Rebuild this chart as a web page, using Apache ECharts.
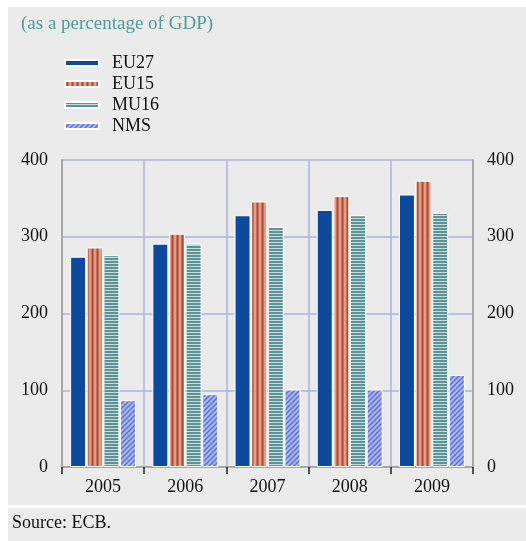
<!DOCTYPE html>
<html>
<head>
<meta charset="utf-8">
<script src="https://cdn.jsdelivr.net/npm/echarts@6/dist/echarts.min.js"></script>
<style>
html,body{margin:0;padding:0;background:#fff;}
#chart{width:526px;height:541px;}
</style>
</head>
<body>
<div id="chart"></div>
<script>
const categories = ['2005', '2006', '2007', '2008', '2009'];
const seriesNames = ['EU27', 'EU15', 'MU16', 'NMS'];
const eu27 = [274, 291, 328, 335, 355];
const eu15 = [286, 304, 346, 353, 373];
const mu16 = [276, 291, 313, 328, 331];
const nms = [87, 95, 101, 101, 120];
const yTicks = [0, 100, 200, 300, 400];

function makePattern(w, h, draw) {
  const c = document.createElement('canvas');
  c.width = w; c.height = h;
  const ctx = c.getContext('2d');
  draw(ctx, w, h);
  return { image: c, repeat: 'repeat' };
}
const solidBlue = '#0d4a9e';
const redPattern = makePattern(5, 4, (ctx, w, h) => {
  ctx.fillStyle = '#dea08a'; ctx.fillRect(0, 0, w, h);
  ctx.fillStyle = '#b24632'; ctx.fillRect(2, 0, 1, h);
  ctx.fillStyle = '#c96f58'; ctx.fillRect(1, 0, 1, h); ctx.fillRect(3, 0, 1, h);
});
const tealPattern = makePattern(4, 3, (ctx, w, h) => {
  ctx.fillStyle = '#5b9398'; ctx.fillRect(0, 0, w, h);
  ctx.fillStyle = '#c9dcdc'; ctx.fillRect(0, 2, w, 1);
});
const hatchPattern = makePattern(5, 5, (ctx, w, h) => {
  ctx.fillStyle = '#aab6ec'; ctx.fillRect(0, 0, w, h);
  ctx.strokeStyle = '#5870d2'; ctx.lineWidth = 1.4;
  ctx.beginPath();
  ctx.moveTo(-1, h + 1); ctx.lineTo(w + 1, -1);
  ctx.moveTo(-1, 1); ctx.lineTo(1, -1);
  ctx.moveTo(w - 1, h + 1); ctx.lineTo(w + 1, h - 1);
  ctx.stroke();
});
const fills = [solidBlue, redPattern, tealPattern, hatchPattern];
const values = [eu27, eu15, mu16, nms];

const chart = echarts.init(document.getElementById('chart'), null, { renderer: 'canvas' });
const font = 'Liberation Serif';
const gridColor = '#a9b3e2';
const axisGray = '#a6a6a6';

const series = seriesNames.map((name, i) => ({
  name: name,
  type: 'bar',
  data: values[i],
  barWidth: 16,
  barGap: '4%',
  itemStyle: { color: fills[i], borderColor: '#ffffff', borderWidth: 1 },
  emphasis: { disabled: true }
}));

chart.setOption({
  animation: false,
  backgroundColor: '#ffffff',
  graphic: [
    { type: 'rect', z: -10, shape: { x: 8, y: 7, width: 518, height: 534 }, style: { fill: '#ebebeb' } },
    { type: 'rect', z: -9, shape: { x: 8, y: 505, width: 518, height: 3 }, style: { fill: '#ffffff' } },
    { type: 'text', left: 21, top: 15, style: { text: '(as a percentage of GDP)', fontFamily: font, fontSize: 19, fill: '#4f9d9d' } },
    { type: 'text', left: 12, top: 514, style: { text: 'Source: ECB.', fontFamily: font, fontSize: 18, fill: '#111' } }
  ],
  legend: {
    orient: 'vertical',
    left: 59,
    top: 49,
    itemWidth: 34,
    itemHeight: 6,
    itemGap: 3,
    icon: 'rect',
    selectedMode: false,
    textStyle: { fontFamily: font, fontSize: 18, lineHeight: 18, color: '#111', padding: [0, 0, 0, 8] },
    data: seriesNames
  },
  grid: { left: 62, right: 53, top: 160, bottom: 74, containLabel: false },
  xAxis: {
    type: 'category',
    data: categories,
    boundaryGap: true,
    axisLine: { show: true, lineStyle: { color: axisGray, width: 2 } },
    axisTick: { show: true, length: 7, lineStyle: { color: '#222', width: 1.5 } },
    axisLabel: { fontFamily: font, fontSize: 18, color: '#111', margin: 11 },
    splitLine: { show: true, lineStyle: { color: gridColor, width: 1.5 } }
  },
  yAxis: [
    {
      type: 'value', min: 0, max: 400, interval: 100, position: 'left',
      axisLine: { show: true, lineStyle: { color: axisGray, width: 2 } },
      axisTick: { show: false },
      axisLabel: { fontFamily: font, fontSize: 18, color: '#111', margin: 14,
        formatter: v => yTicks.includes(v) ? String(v) : '' },
      splitLine: { show: true, lineStyle: { color: gridColor, width: 1.5 } }
    },
    {
      type: 'value', min: 0, max: 400, interval: 100, position: 'right',
      axisLine: { show: true, lineStyle: { color: axisGray, width: 2 } },
      axisTick: { show: false },
      axisLabel: { fontFamily: font, fontSize: 18, color: '#111', margin: 14,
        formatter: v => yTicks.includes(v) ? String(v) : '' },
      splitLine: { show: false }
    }
  ],
  series: series
});
</script>
</body>
</html>
